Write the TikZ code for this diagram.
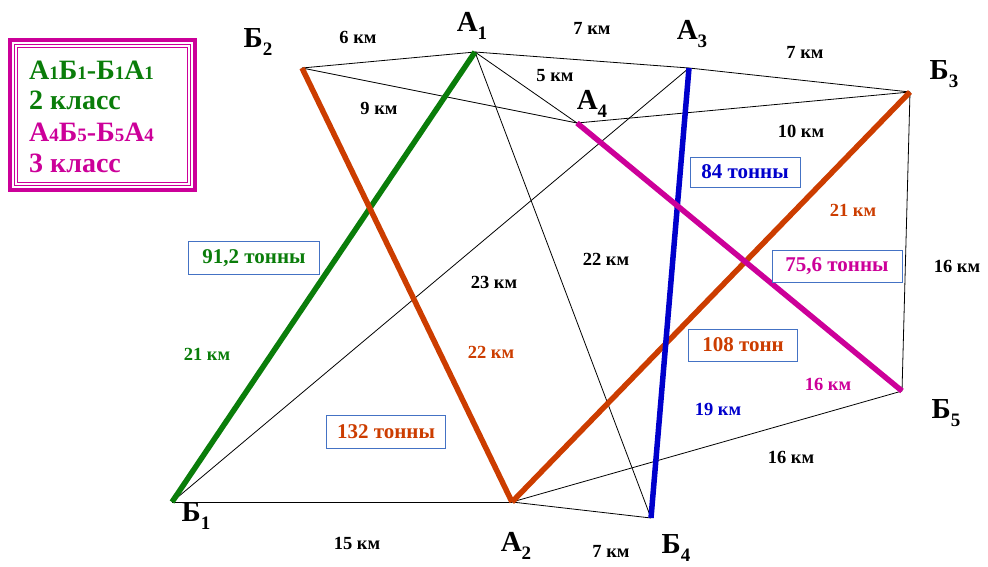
\documentclass[tikz,border=0pt]{standalone}
\usepackage{fontspec}
\setmainfont{Liberation Serif}
\definecolor{cgreen}{HTML}{0A7D0A}
\definecolor{corange}{HTML}{CC3D00}
\definecolor{cblue}{HTML}{0000CC}
\definecolor{cmag}{HTML}{CC0099}
\definecolor{boxblue}{HTML}{4472C4}
\newcommand{\vxlab}[2]{#1\raisebox{-0.28em}{\fontsize{19}{19}\selectfont #2}}
\newcommand{\lgdig}[2]{#1{\fontsize{19}{19}\selectfont #2}}
\begin{document}
\begin{tikzpicture}[x=1pt,y=-1pt,
  thinline/.style={black,line width=0.8pt},
  thickline/.style={line width=5.5pt},
  vlabel/.style={font=\fontsize{29}{29}\selectfont\bfseries,inner sep=0pt},
  km/.style={font=\fontsize{18.5}{18.5}\selectfont\bfseries,inner sep=0pt},
  tbox/.style={draw=boxblue,line width=1pt,fill=white,font=\fontsize{21}{21}\selectfont\bfseries,inner sep=0pt},
  legtext/.style={anchor=west,inner sep=0pt,font=\fontsize{28}{28}\selectfont\bfseries}]
\useasboundingbox (0,0) rectangle (988,566);
% vertices
\coordinate (B1) at (172,502);
\coordinate (B2) at (302,68);
\coordinate (A1) at (475,52);
\coordinate (A3) at (689,68);
\coordinate (A4) at (577,123);
\coordinate (B3) at (910,92);
\coordinate (A2) at (512,502);
\coordinate (B4) at (651,518);
\coordinate (B5) at (902,391);
% thin lines
\draw[thinline] (B2) -- (A1);
\draw[thinline] (B2) -- (A4);
\draw[thinline] (A1) -- (A3) -- (B3);
\draw[thinline] (A1) -- (A4);
\draw[thinline] (A4) -- (B3);
\draw[thinline] (A3) -- (B1);
\draw[thinline] (A1) -- (B4);
\draw[thinline] (B1) -- (A2);
\draw[thinline] (A2) -- (B4);
\draw[thinline] (A2) -- (B5);
\draw[thinline] (B3) -- (B5);
% thick lines
\draw[thickline,cgreen] (B1) -- (A1);
\draw[thickline,corange] (B2) -- (A2);
\draw[thickline,corange] (A2) -- (B3);
\draw[thickline,cblue] (A3) -- (B4);
\draw[thickline,cmag] (A4) -- (B5);
% vertex labels
\node[vlabel] (lB2) at (258,42) {\vxlab{Б}{2}};
\node[vlabel] (lA1) at (472,26) {\vxlab{А}{1}};
\node[vlabel] (lA3) at (692,34) {\vxlab{А}{3}};
\node[vlabel] (lA4) at (592,104) {\vxlab{А}{4}};
\node[vlabel] (lB3) at (944,74) {\vxlab{Б}{3}};
\node[vlabel] (lB1) at (196,516) {\vxlab{Б}{1}};
\node[vlabel] (lA2) at (516,546) {\vxlab{А}{2}};
\node[vlabel] (lB4) at (676,548) {\vxlab{Б}{4}};
\node[vlabel] (lB5) at (946,413) {\vxlab{Б}{5}};
% km labels
\node[km] (k1) at (358,37) {6 км};
\node[km] (k2) at (592,28) {7 км};
\node[km] (k3) at (805,52) {7 км};
\node[km] (k4) at (555,76) {5 км};
\node[km] (k5) at (379,108) {9 км};
\node[km] (k6) at (801,131) {10 км};
\node[km,text=corange] (k7) at (853,210) {21 км};
\node[km] (k8) at (606,259) {22 км};
\node[km] (k9) at (494,282) {23 км};
\node[km] (k10) at (957,266) {16 км};
\node[km,text=cgreen] (k11) at (207,354) {21 км};
\node[km,text=corange] (k12) at (491,352) {22 км};
\node[km,text=cmag] (k13) at (828,384) {16 км};
\node[km,text=cblue] (k14) at (718,409) {19 км};
\node[km] (k15) at (791,457) {16 км};
\node[km] (k16) at (357,543) {15 км};
\node[km] (k17) at (611,551) {7 км};
% tonnage boxes
\node[tbox,text=cblue,minimum width=110,minimum height=30] (t1) at (745,172) {84 тонны};
\node[tbox,text=cgreen,minimum width=131,minimum height=33] (t2) at (254,258) {91,2 тонны};
\node[tbox,text=cmag,minimum width=130,minimum height=32] (t3) at (837,266) {75,6 тонны};
\node[tbox,text=corange,minimum width=109,minimum height=32] (t4) at (743,345) {108 тонн};
\node[tbox,text=corange,minimum width=119,minimum height=33] (t5) at (386,432) {132 тонны};
% legend
\draw[cmag,line width=3.5pt] (10,40) rectangle (195,190);
\draw[cmag,line width=1.2pt] (14.5,44.5) rectangle (190.5,185.5);
\draw[cmag,line width=1.2pt] (17.5,47.5) rectangle (187.5,182.5);
\node[legtext,text=cgreen] (L1) at (29,70) {\lgdig{А}{1}\lgdig{Б}{1}-\lgdig{Б}{1}\lgdig{А}{1}};
\node[legtext,text=cgreen] (L2) at (29,100) {2 класс};
\node[legtext,text=cmag] (L3) at (29,132) {\lgdig{А}{4}\lgdig{Б}{5}-\lgdig{Б}{5}\lgdig{А}{4}};
\node[legtext,text=cmag] (L4) at (29,163) {3 класс};
\end{tikzpicture}
\end{document}
